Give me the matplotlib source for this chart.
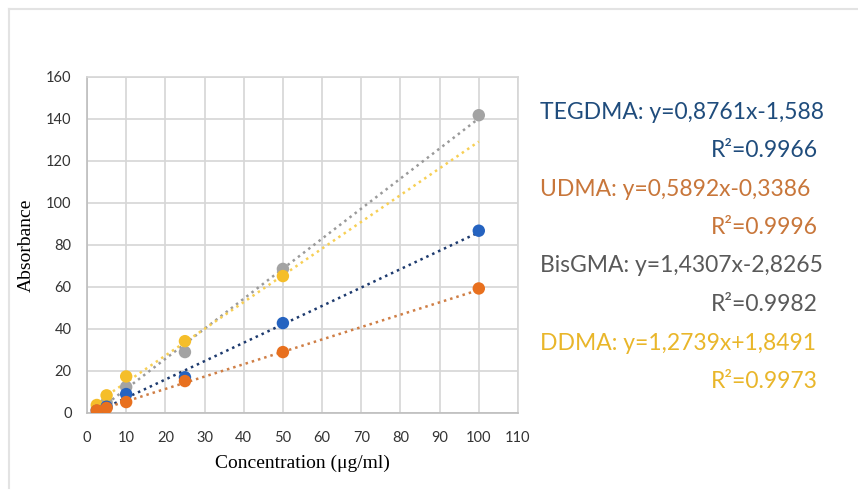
import numpy as np
import matplotlib.pyplot as plt

# concentrations (ug/ml) and measured absorbance
conc = [2.5, 5, 10, 25, 50, 100]
tegdma = [1.0, 3.0, 9.0, 17.0, 42.8, 86.8]
udma = [1.2, 2.4, 5.2, 15.2, 29.0, 59.3]
bisgma = [1.8, 5.0, 12.4, 29.0, 68.6, 141.8]
ddma_conc = [2.5, 5, 10, 25, 50]
ddma = [3.8, 8.4, 17.4, 34.2, 65.2]

# linear fits as reported: slope, intercept, r2
fits = {
    'TEGDMA': (0.8761, -1.588, 0.9966),
    'UDMA': (0.5892, -0.3386, 0.9996),
    'BisGMA': (1.4307, -2.8265, 0.9982),
    'DDMA': (1.2739, 1.8491, 0.9973),
}
eq_text = {
    'TEGDMA': 'y=0,8761x-1,588',
    'UDMA': 'y=0,5892x-0,3386',
    'BisGMA': 'y=1,4307x-2,8265',
    'DDMA': 'y=1,2739x+1,8491',
}

point_col = {'TEGDMA': '#2563c0', 'UDMA': '#e8701e', 'BisGMA': '#a3a3a3', 'DDMA': '#f5be2a'}
trend_col = {'TEGDMA': '#1d3a6e', 'UDMA': '#cf7e45', 'BisGMA': '#9a9a9a', 'DDMA': '#f7cf55'}
text_col = {'TEGDMA': '#1f4c7c', 'UDMA': '#c8763a', 'BisGMA': '#595959', 'DDMA': '#e9b62a'}

fig = plt.figure(figsize=(8.58, 4.91), dpi=100)
ax = fig.add_axes([0.1014, 0.1589, 0.5023, 0.6843])

series = [('BisGMA', conc, bisgma), ('DDMA', ddma_conc, ddma),
          ('TEGDMA', conc, tegdma), ('UDMA', conc, udma)]
xs = np.array([2.5, 100])
for name, x, y in series:
    k, b, r2 = fits[name]
    ax.plot(xs, k * xs + b, linestyle=(0, (1, 1.6)), lw=1.8,
            color=trend_col[name], zorder=2)
for name, x, y in series:
    ax.scatter(x, y, s=80, color=point_col[name], zorder=3, edgecolors='none')

ax.set_xlim(0, 110)
ax.set_ylim(0, 160)
ax.set_xticks(range(0, 111, 10))
ax.set_yticks(range(0, 161, 20))
ax.grid(True, color='#d6d6d6', lw=1.2)
ax.set_axisbelow(True)
for s in ax.spines.values():
    s.set_color('#d6d6d6')
    s.set_linewidth(1.2)
ax.spines['left'].set_color('#bdbdbd')
ax.spines['bottom'].set_color('#bdbdbd')
ax.tick_params(length=0, labelsize=10.5, labelcolor='#333333')
ax.tick_params(axis='x', pad=13)
ax.tick_params(axis='y', pad=11)
for lab in ax.get_xticklabels() + ax.get_yticklabels():
    lab.set_family('Lato')

ax.set_xlabel('Concentration (μg/ml)', family='Liberation Serif', fontsize=14, labelpad=7)
ax.set_ylabel('Absorbance', family='Liberation Serif', fontsize=14, labelpad=8)

# equations and R² to the right of the plot
y0 = 1 - 112 / 491
step = 38.5 / 491
for i, name in enumerate(['TEGDMA', 'UDMA', 'BisGMA', 'DDMA']):
    r2 = fits[name][2]
    fig.text(540 / 858, y0 - 2 * i * step, f'{name}: {eq_text[name]}',
             color=text_col[name], family='Lato', fontsize=16.5, va='center', ha='left')
    fig.text(818 / 858, y0 - (2 * i + 1) * step, f'R²={r2:.4f}',
             color=text_col[name], family='Lato', fontsize=16.5, va='center', ha='right')

# light frame lines along the top and left edge
fig.add_artist(plt.Line2D([9 / 858, 1], [1 - 9 / 491, 1 - 9 / 491], color='#e3e3e3', lw=1.5))
fig.add_artist(plt.Line2D([9 / 858, 9 / 858], [1 - 9 / 491, 1 - 488 / 491], color='#e3e3e3', lw=1.5))

fig.savefig('out.png', dpi=100)
